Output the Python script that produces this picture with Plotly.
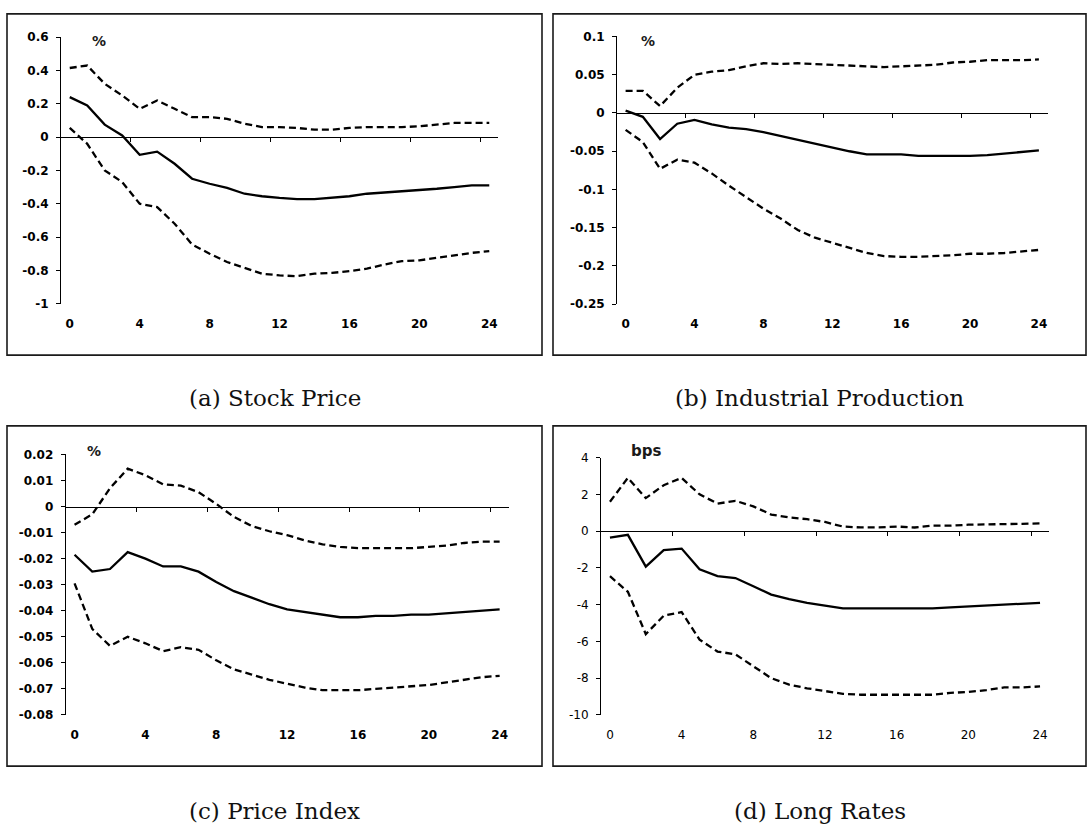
# -*- coding: utf-8 -*-
"""
Impulse responses, four panels with 90% bands.
"""
# Third party
import plotly.graph_objects as go

WIDTH = 1088
HEIGHT = 837

# horizon (months) and axis labels
horizon = list(range(25))
x_tick_vals = [0, 4, 8, 12, 16, 20, 24]
x_tick_labels = ["0", "4", "8", "12", "16", "20", "24"]
x_minor_ticks = [3.5, 7.5, 11.5, 15.5, 19.5, 23.5]

# (a) Stock Price
stock_mid = [0.24, 0.19, 0.075, 0.01, -0.106, -0.087, -0.16, -0.25, -0.28,
             -0.305, -0.34, -0.355, -0.365, -0.372, -0.372, -0.365, -0.355,
             -0.34, -0.333, -0.325, -0.317, -0.31, -0.30, -0.29, -0.29]
stock_up = [0.415, 0.43, 0.32, 0.25, 0.17, 0.22, 0.17, 0.12, 0.12, 0.11,
            0.08, 0.06, 0.06, 0.055, 0.045, 0.045, 0.055, 0.06, 0.06, 0.06,
            0.065, 0.075, 0.085, 0.085, 0.085]
stock_lo = [0.055, -0.04, -0.2, -0.27, -0.40, -0.42, -0.52, -0.645, -0.70,
            -0.75, -0.785, -0.82, -0.83, -0.835, -0.82, -0.815, -0.805,
            -0.79, -0.765, -0.745, -0.74, -0.725, -0.71, -0.695, -0.685]
stock_yticks = [0.6, 0.4, 0.2, 0, -0.2, -0.4, -0.6, -0.8, -1]
stock_ylabels = ["0.6", "0.4", "0.2", "0", "-0.2", "-0.4", "-0.6", "-0.8",
                 "-1"]

# (b) Industrial Production
ip_mid = [0.003, -0.005, -0.034, -0.014, -0.009, -0.015, -0.019, -0.021,
          -0.025, -0.03, -0.035, -0.04, -0.045, -0.05, -0.054, -0.054,
          -0.054, -0.056, -0.056, -0.056, -0.056, -0.055, -0.053, -0.051,
          -0.049]
ip_up = [0.029, 0.029, 0.009, 0.033, 0.05, 0.054, 0.056, 0.061, 0.065,
         0.064, 0.065, 0.064, 0.063, 0.062, 0.061, 0.06, 0.061, 0.062,
         0.063, 0.066, 0.067, 0.069, 0.069, 0.069, 0.07]
ip_lo = [-0.022, -0.038, -0.073, -0.061, -0.065, -0.079, -0.095, -0.11,
         -0.125, -0.138, -0.153, -0.163, -0.17, -0.177, -0.183, -0.187,
         -0.188, -0.188, -0.187, -0.186, -0.184, -0.184, -0.183, -0.181,
         -0.179]
ip_yticks = [0.1, 0.05, 0, -0.05, -0.1, -0.15, -0.2, -0.25]
ip_ylabels = ["0.1", "0.05", "0", "-0.05", "-0.1", "-0.15", "-0.2", "-0.25"]

# (c) Price Index
cpi_mid = [-0.0185, -0.025, -0.024, -0.0175, -0.02, -0.023, -0.023, -0.025,
           -0.029, -0.0325, -0.035, -0.0375, -0.0395, -0.0405, -0.0415,
           -0.0425, -0.0425, -0.042, -0.042, -0.0415, -0.0415, -0.041,
           -0.0405, -0.04, -0.0395]
cpi_up = [-0.007, -0.003, 0.007, 0.0145, 0.012, 0.0085, 0.008, 0.0055,
          0.001, -0.004, -0.0075, -0.0095, -0.011, -0.013, -0.0145, -0.0155,
          -0.016, -0.016, -0.016, -0.016, -0.0155, -0.015, -0.014, -0.0135,
          -0.0135]
cpi_lo = [-0.0295, -0.047, -0.0535, -0.05, -0.0525, -0.0555, -0.054, -0.055,
          -0.059, -0.0625, -0.0645, -0.0665, -0.068, -0.0695, -0.0705,
          -0.0705, -0.0705, -0.07, -0.0695, -0.069, -0.0685, -0.0675,
          -0.0665, -0.0655, -0.065]
cpi_yticks = [0.02, 0.01, 0, -0.01, -0.02, -0.03, -0.04, -0.05, -0.06,
              -0.07, -0.08]
cpi_ylabels = ["0.02", "0.01", "0", "-0.01", "-0.02", "-0.03", "-0.04",
               "-0.05", "-0.06", "-0.07", "-0.08"]

# (d) Long Rates
lr_mid = [-0.35, -0.2, -1.93, -1.03, -0.95, -2.07, -2.45, -2.55, -3.0,
          -3.45, -3.7, -3.9, -4.05, -4.2, -4.2, -4.2, -4.2, -4.2, -4.2,
          -4.15, -4.1, -4.05, -4.0, -3.97, -3.9]
lr_up = [1.6, 2.9, 1.8, 2.5, 2.9, 2.0, 1.5, 1.65, 1.35, 0.9, 0.75, 0.65,
         0.5, 0.25, 0.2, 0.2, 0.25, 0.2, 0.3, 0.3, 0.35, 0.38, 0.38, 0.4,
         0.42]
lr_lo = [-2.45, -3.3, -5.6, -4.6, -4.4, -5.9, -6.55, -6.7, -7.35, -8.0,
         -8.35, -8.55, -8.7, -8.85, -8.9, -8.9, -8.9, -8.9, -8.9, -8.8,
         -8.75, -8.65, -8.5, -8.5, -8.45]
lr_yticks = [4, 2, 0, -2, -4, -6, -8, -10]
lr_ylabels = ["4", "2", "0", "-2", "-4", "-6", "-8", "-10"]

captions = ["(a) Stock Price", "(b) Industrial Production",
            "(c) Price Index", "(d) Long Rates"]
units = ["%", "%", "%", "bps"]

# layout of each panel in pixels: plot area, frame box, unit label, caption
PANELS = [
    dict(series=(stock_mid, stock_up, stock_lo), yrange=[-1, 0.6],
         yticks=(stock_yticks, stock_ylabels),
         plot=(61, 498, 30.7, 301.7), box=(7, 7, 542, 354),
         unit_xy=(99, 35), cap_xy=(274.5, 398), bold=True),
    dict(series=(ip_mid, ip_up, ip_lo), yrange=[-0.25, 0.1],
         yticks=(ip_yticks, ip_ylabels),
         plot=(617, 1047.5, 30, 302.3), box=(553, 7, 1086, 354),
         unit_xy=(648, 35), cap_xy=(819.5, 398), bold=True),
    dict(series=(cpi_mid, cpi_up, cpi_lo), yrange=[-0.08, 0.02],
         yticks=(cpi_yticks, cpi_ylabels),
         plot=(65.7, 508.5, 455, 720), box=(7, 426, 542, 772),
         unit_xy=(94, 452), cap_xy=(274.5, 818), bold=True),
    dict(series=(lr_mid, lr_up, lr_lo), yrange=[-10, 4],
         yticks=(lr_yticks, lr_ylabels),
         plot=(601, 1049, 458.3, 720), box=(553, 426, 1086, 772),
         unit_xy=(646, 452), cap_xy=(819.5, 818), bold=False),
]

XRANGE = [-0.5, 24.5]
TICK_FONT = "DejaVu Sans"
CAPTION_FONT = "DejaVu Serif"


def _px(x, y):
    return x / WIDTH, 1 - y / HEIGHT


def _add_panel(fig, i, panel):
    n = i + 1
    mid, up, lo = panel["series"]
    for values, dash in ((up, "7px,4px"), (lo, "7px,4px"), (mid, "solid")):
        fig.add_trace(go.Scatter(x=horizon, y=values, mode="lines",
                                 line=dict(color="black", width=2.3,
                                           dash=dash),
                                 xaxis=f"x{n}", yaxis=f"y{n}",
                                 showlegend=False, hoverinfo="skip"))
    # dummy trace so the zero-line axis gets drawn
    fig.add_trace(go.Scatter(x=[None], y=[None], xaxis=f"x{n + 4}",
                             yaxis=f"y{n}", showlegend=False,
                             hoverinfo="skip"))

    x0, x1, ytop, ybot = panel["plot"]
    xd = [x0 / WIDTH, x1 / WIDTH]
    yd = [1 - ybot / HEIGHT, 1 - ytop / HEIGHT]
    ymin, ymax = panel["yrange"]
    zero_pos = yd[0] + (0 - ymin) / (ymax - ymin) * (yd[1] - yd[0])

    weight = "bold" if panel["bold"] else "normal"
    tfont = dict(family=TICK_FONT, size=12, color="black", weight=weight)

    fig.layout[f"xaxis{n}"] = dict(
        domain=xd, range=XRANGE, anchor=f"y{n}",
        tickvals=x_tick_vals, ticktext=x_tick_labels, ticks="",
        showline=False, showgrid=False, zeroline=False,
        tickfont=tfont, ticklabelstandoff=11)
    fig.layout[f"xaxis{n + 4}"] = dict(
        overlaying=f"x{n}", anchor="free", position=zero_pos,
        side="bottom", range=XRANGE, tickvals=x_minor_ticks,
        showticklabels=False, ticks="outside", ticklen=4, tickwidth=1,
        tickcolor="black", showline=True, linecolor="black", linewidth=1,
        showgrid=False, zeroline=False)
    yvals, ytext = panel["yticks"]
    fig.layout[f"yaxis{n}"] = dict(
        domain=yd, range=panel["yrange"], anchor=f"x{n}",
        tickvals=yvals, ticktext=ytext, ticks="outside", ticklen=4,
        tickwidth=1, tickcolor="black", showline=True, linecolor="black",
        linewidth=1, showgrid=False, zeroline=False,
        tickfont=tfont, ticklabelstandoff=5)

    bx0, by0, bx1, by1 = panel["box"]
    fig.add_shape(type="rect", xref="paper", yref="paper",
                  x0=bx0 / WIDTH, x1=bx1 / WIDTH,
                  y0=1 - by1 / HEIGHT, y1=1 - by0 / HEIGHT,
                  line=dict(color="#1a1a1a", width=1.6))

    ux, uy = _px(*panel["unit_xy"])
    fig.add_annotation(x=ux, y=uy, xref="paper", yref="paper",
                       xanchor="center", yanchor="middle",
                       text=units[i], showarrow=False,
                       font=dict(family=TICK_FONT, size=14 if n < 4 else 15,
                                 color="#1a1a1a", weight="bold"))
    cx, cy = _px(*panel["cap_xy"])
    fig.add_annotation(x=cx, y=cy, xref="paper", yref="paper",
                       xanchor="center", yanchor="middle",
                       text=captions[i], showarrow=False,
                       font=dict(family=CAPTION_FONT, size=23,
                                 color="#111111"))


fig = go.Figure()
for i, panel in enumerate(PANELS):
    _add_panel(fig, i, panel)

fig.update_layout(width=WIDTH, height=HEIGHT,
                  margin=dict(l=0, r=0, t=0, b=0),
                  paper_bgcolor="white", plot_bgcolor="white")

# drop the default page margin so the figure sits at the window origin
fig.write_html("out.html", config={"displayModeBar": False},
               post_script="document.body.style.margin = '0';")
